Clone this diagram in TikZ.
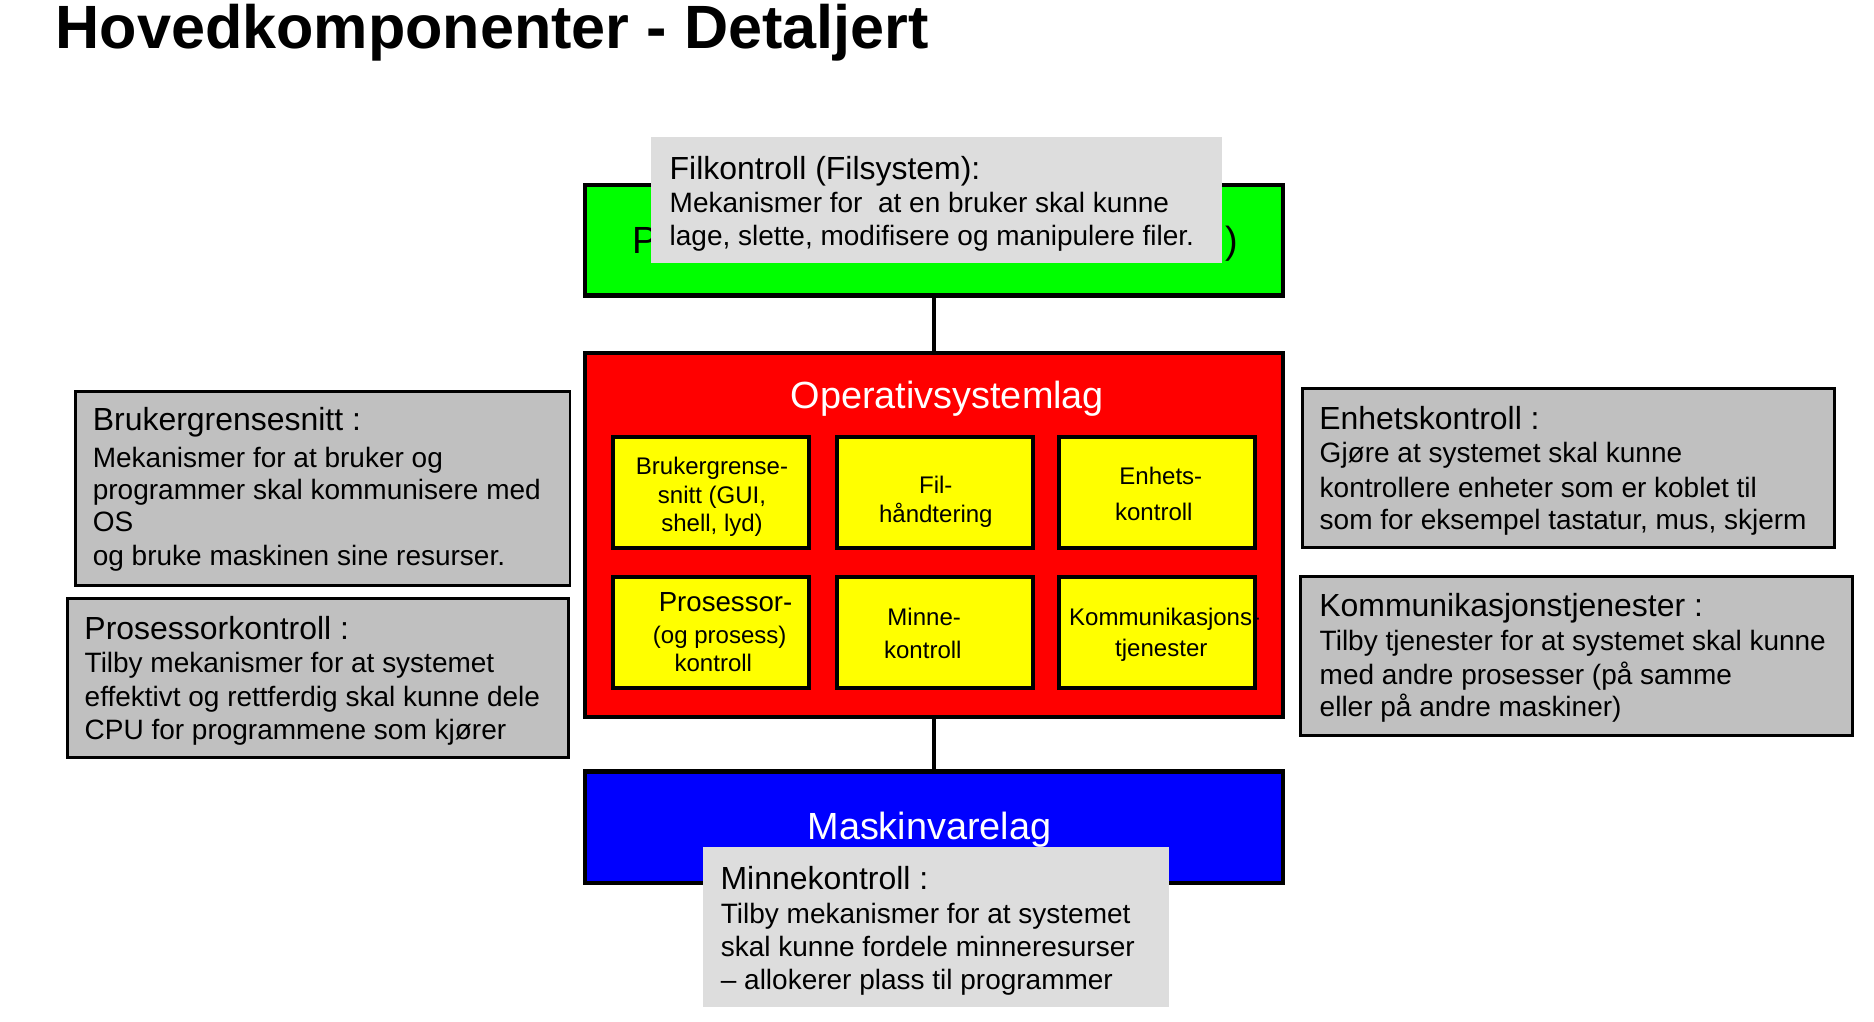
\documentclass[tikz,border=0pt]{standalone}
\usepackage{fontspec}
\setmainfont{Liberation Sans}
\definecolor{lgreen}{HTML}{00FF00}
\definecolor{lred}{HTML}{FF0000}
\definecolor{lblue}{HTML}{0000FF}
\definecolor{yel}{HTML}{FFFF00}
\definecolor{silver}{HTML}{C0C0C0}
\definecolor{lgray}{HTML}{DDDDDD}
\tikzset{
  lay/.style={draw=black, line width=3.8pt, anchor=north west, inner sep=0pt, outer sep=0pt, minimum width=581pt},
  ybox/.style={draw=black, line width=3.3pt, fill=yel, anchor=north west, inner sep=0pt, outer sep=0pt, minimum width=163.3pt, minimum height=92.4pt},
  gbox/.style={draw=black, line width=2.2pt, fill=silver, anchor=north west, inner sep=0pt, outer sep=0pt},
  lbox/.style={fill=lgray, anchor=north west, inner sep=0pt, outer sep=0pt},
  txt/.style={inner sep=0pt, outer sep=0pt},
  hd/.style={txt, anchor=base west, font=\fontsize{26.6}{31}\selectfont},
  bd/.style={txt, anchor=base west, font=\fontsize{23.3}{28}\selectfont},
  yt/.style={txt, anchor=base, font=\fontsize{20}{24}\selectfont},
  layt/.style={txt, font=\fontsize{31.5}{36}\selectfont},
  conn/.style={line width=3.3pt},
}
\begin{document}
\begin{tikzpicture}[x=1pt,y=-1pt]
\useasboundingbox[fill=white] (0,0) rectangle (1560,850);

% title
\node[txt, anchor=base west, font=\fontsize{50.9}{60}\selectfont\bfseries] (title) at (46.3,40.2) {Hovedkomponenter - Detaljert};

% layer boxes
\node[lay, fill=lgreen, minimum height=92pt] (prog) at (487,154) {};
\node[lay, fill=lred, minimum height=303pt] (os) at (487,294) {};
\node[lay, fill=lblue, minimum height=93pt] (hw) at (487,642) {};
\draw[conn] (prog.south) -- (os.north);
\draw[conn] (os.south) -- (hw.north);

% green layer label (only ends visible)
\node[layt, anchor=base west] (prog-l) at (526.1,211) {P};
\node[layt, anchor=base east] (prog-r) at (1030.9,211) {)};

% OS layer
\node[layt, anchor=base west, text=white] (os-t) at (658.2,339.9) {Operativsystemlag};
\node[ybox] (y11) at (510,364) {};
\node[ybox] (y12) at (696.5,364) {};
\node[ybox] (y13) at (881.5,364) {};
\node[ybox] (y21) at (510,480.6) {};
\node[ybox] (y22) at (696.5,480.6) {};
\node[ybox] (y23) at (881.5,480.6) {};

\node[yt] (y11a) at (592.7,395.4) {Brukergrense-};
\node[yt] (y11b) at (592.7,419) {snitt (GUI,};
\node[yt] (y11c) at (592.7,442.2) {shell, lyd)};
\node[yt] (y12a) at (779,411.2) {Fil-};
\node[yt] (y12b) at (779,435.1) {håndtering};
\node[yt] (y13a) at (966.3,403.7) {Enhets-};
\node[yt] (y13b) at (960.5,432.9) {kontroll};
\node[yt, font=\fontsize{23}{27}\selectfont] (y21a) at (604,509.2) {Prosessor-};
\node[yt] (y21b) at (599.1,535.5) {(og prosess)};
\node[yt] (y21c) at (593.8,559.1) {kontroll};
\node[yt] (y22a) at (769.3,520.3) {Minne-};
\node[yt] (y22b) at (768.2,548) {kontroll};
\node[yt] (y23a) at (969.5,520.3) {Kommunikasjons-};
\node[yt] (y23b) at (966.7,546.6) {tjenester};

% hardware layer
\node[layt, anchor=base west, text=white] (hw-t) at (672.2,699.2) {Maskinvarelag};

% Filkontroll
\node[lbox, minimum width=475pt, minimum height=105pt] (fk) at (542,114) {};
\node[hd] (fk-h) at (557.5,149.3) {Filkontroll (Filsystem):};
\node[bd] (fk-1) at (557.5,177) {Mekanismer for\ \ at en bruker skal kunne};
\node[bd] (fk-2) at (557.5,204.5) {lage, slette, modifisere og manipulere filer.};

% Brukergrensesnitt
\node[gbox, minimum width=411.5pt, minimum height=161.5pt] (bg) at (63,326) {};
\node[hd] (bg-h) at (77.3,358.5) {Brukergrensesnitt :};
\node[bd] (bg-1) at (77.3,389) {Mekanismer for at bruker og};
\node[bd] (bg-2) at (77.3,415.7) {programmer skal kommunisere med};
\node[bd] (bg-3) at (77.3,442.6) {OS};
\node[bd] (bg-4) at (77.3,470.9) {og bruke maskinen sine resurser.};

% Prosessorkontroll
\node[gbox, minimum width=417pt, minimum height=132.7pt] (pk) at (56,498) {};
\node[hd] (pk-h) at (70.3,532.2) {Prosessorkontroll :};
\node[bd] (pk-1) at (70.5,560) {Tilby mekanismer for at systemet};
\node[bd] (pk-2) at (70.5,588.3) {effektivt og rettferdig skal kunne dele};
\node[bd] (pk-3) at (70.5,615.4) {CPU for programmene som kjører};

% Enhetskontroll
\node[gbox, minimum width=443pt, minimum height=132.3pt] (ek) at (1084,323.3) {};
\node[hd] (ek-h) at (1098.3,357.6) {Enhetskontroll :};
\node[bd] (ek-1) at (1098.6,385.2) {Gjøre at systemet skal kunne};
\node[bd] (ek-2) at (1098.6,414) {kontrollere enheter som er koblet til};
\node[bd] (ek-3) at (1098.6,440.4) {som for eksempel tastatur, mus, skjerm};

% Kommunikasjonstjenester
\node[gbox, minimum width=459.5pt, minimum height=132.5pt] (kt) at (1082.5,480) {};
\node[hd] (kt-h) at (1098.3,513.3) {Kommunikasjonstjenester :};
\node[bd] (kt-1) at (1098.6,541.7) {Tilby tjenester for at systemet skal kunne};
\node[bd] (kt-2) at (1098.6,570.2) {med andre prosesser (på samme};
\node[bd] (kt-3) at (1098.6,596.6) {eller på andre maskiner)};

% Minnekontroll
\node[lbox, minimum width=387.5pt, minimum height=132.7pt] (mk) at (585.5,705.3) {};
\node[hd] (mk-h) at (599.8,740.3) {Minnekontroll :};
\node[bd] (mk-1) at (600.1,768.6) {Tilby mekanismer for at systemet};
\node[bd] (mk-2) at (600.1,796.4) {skal kunne fordele minneresurser};
\node[bd] (mk-3) at (600.1,824.1) {– allokerer plass til programmer};
\end{tikzpicture}
\end{document}
